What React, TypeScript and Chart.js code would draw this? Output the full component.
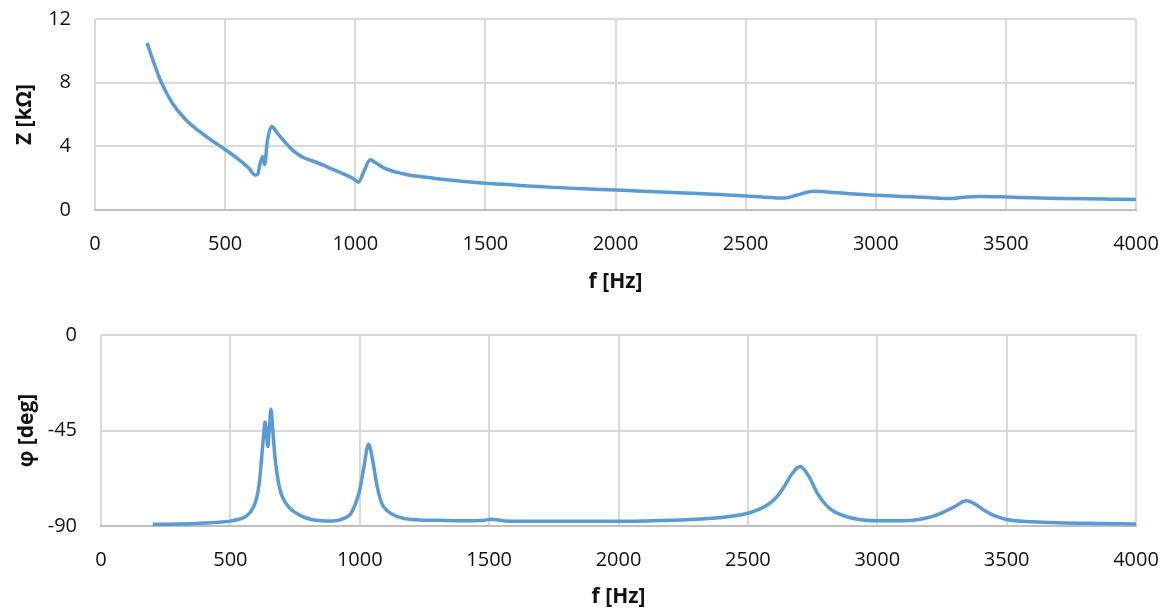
import React, { useEffect, useRef } from "react";
import { Chart, registerables } from "chart.js";

Chart.register(...registerables);

// Impedance magnitude |Z| [kΩ] vs frequency [Hz]
const zFreq = [
  200, 225, 250, 275, 300, 350, 400, 450, 500, 550, 590, 615, 625, 635, 644, 652, 662, 679, 700, 725,
  760, 800, 850, 900, 950, 990, 1013, 1030, 1058, 1080, 1110, 1160, 1200, 1300, 1400, 1500, 1600, 1700,
  1800, 1900, 2000, 2100, 2200, 2300, 2400, 2500, 2600, 2650, 2700, 2760, 2800, 2900, 3000, 3100, 3200,
  3280, 3350, 3400, 3500, 3600, 3700, 3800, 3900, 4000,
];
const zValues = [
  10.5, 9.3, 8.2, 7.35, 6.65, 5.65, 4.95, 4.35, 3.8, 3.2, 2.65, 2.2, 2.25, 2.95, 3.35, 2.85, 4.3, 5.25,
  4.85, 4.35, 3.75, 3.3, 3.0, 2.65, 2.3, 2.0, 1.75, 2.3, 3.15, 2.95, 2.65, 2.36, 2.22, 2.0, 1.82, 1.68,
  1.58, 1.48, 1.39, 1.32, 1.26, 1.18, 1.12, 1.05, 0.98, 0.88, 0.78, 0.75, 0.95, 1.18, 1.15, 1.02, 0.92,
  0.85, 0.78, 0.72, 0.82, 0.85, 0.82, 0.77, 0.73, 0.7, 0.68, 0.66,
];

// Phase φ [deg] vs frequency [Hz]
const phiFreq = [
  200, 300, 400, 500, 520, 560, 590, 605, 615, 620, 628, 634, 640, 645, 650, 657, 664, 672, 680, 690,
  700, 725, 780, 850, 900, 950, 965, 982, 1000, 1015, 1034, 1050, 1065, 1085, 1110, 1140, 1200, 1300,
  1400, 1470, 1510, 1560, 1700, 2000, 2200, 2320, 2420, 2500, 2575, 2610, 2640, 2670, 2702, 2735, 2769,
  2800, 2833, 2900, 3000, 3100, 3160, 3220, 3260, 3300, 3344, 3380, 3416, 3450, 3500, 3600, 3700, 3850,
  4000,
];
const phiValues = [
  -89.2, -89.1, -88.6, -87.7, -87.2, -85.5, -81, -75, -66, -59, -48, -41, -47, -52.5, -45, -35, -45,
  -57, -65, -72, -76, -81, -85.6, -87.5, -87.6, -85.8, -84.2, -80.1, -73, -63, -51.5, -59, -70, -79.3,
  -83.2, -85.3, -86.9, -87.3, -87.5, -87.4, -86.8, -87.6, -87.8, -87.8, -87.3, -86.7, -85.6, -84,
  -80.1, -76.5, -71.5, -65.5, -62, -66.5, -74.6, -79.8, -83.2, -86.2, -87.5, -87.5, -86.9, -85.2,
  -83.2, -80.8, -78.1, -79.8, -82.8, -85, -86.9, -88, -88.5, -88.8, -89,
];

const xMin = 0;
const xMax = 4000;
const xStep = 500;
const zMin = 0;
const zMax = 12;
const zStep = 4;
const phiMin = -90;
const phiMax = 0;
const phiStep = 45;

const xTitle = "f [Hz]";
const zTitle = "Z [kΩ]";
const phiTitle = "φ [deg]";

const LINE = "#5b9bd5";
const GRID = "#d9d9d9";
const AXIS = "#bfbfbf";
const TEXT = "#111111";
const FONT = "'Open Sans', 'DejaVu Sans', sans-serif";
const CLEAR = "rgba(0,0,0,0)";

type PanelCfg = {
  xs: number[];
  ys: number[];
  yMin: number;
  yMax: number;
  yStep: number;
  yTitle: string;
  height: number;
  padTop: number;
  padRight: number;
  yAxisWidth: number;
  yTitlePad: number;
  xAxisHeight: number;
  xTitlePadBottom: number;
};

function Panel(props: PanelCfg) {
  const ref = useRef<HTMLCanvasElement | null>(null);
  useEffect(() => {
    if (!ref.current) return;
    const pts = props.xs.map((x, i) => ({ x, y: props.ys[i] }));
    const chart = new Chart(ref.current, {
      type: "line",
      data: {
        datasets: [
          {
            data: pts,
            borderColor: LINE,
            borderWidth: 3.5,
            pointRadius: 0,
            fill: false,
            cubicInterpolationMode: "monotone",
          },
        ],
      },
      options: {
        responsive: false,
        animation: false,
        maintainAspectRatio: false,
        layout: { padding: { top: props.padTop, right: props.padRight, bottom: 0, left: 0 } },
        plugins: { legend: { display: false }, tooltip: { enabled: false } },
        scales: {
          x: {
            type: "linear",
            min: xMin,
            max: xMax,
            afterFit: (s: any) => {
              s.height = props.xAxisHeight;
            },
            ticks: {
              stepSize: xStep,
              color: TEXT,
              font: { family: FONT, size: 20 },
              padding: 0,
              maxRotation: 0,
              callback: (v: any) => String(v),
            },
            grid: { color: GRID, lineWidth: 2, drawTicks: true, tickLength: 22, tickColor: CLEAR },
            border: { color: AXIS, width: 2 },
            title: {
              display: true,
              text: xTitle,
              color: TEXT,
              font: { family: FONT, size: 21, weight: "bold" },
              padding: { top: 0, bottom: props.xTitlePadBottom },
            },
          },
          y: {
            type: "linear",
            min: props.yMin,
            max: props.yMax,
            afterFit: (s: any) => {
              s.width = props.yAxisWidth;
            },
            ticks: {
              stepSize: props.yStep,
              color: TEXT,
              font: { family: FONT, size: 20 },
              padding: 2,
              callback: (v: any) => String(v),
            },
            grid: { color: GRID, lineWidth: 2, drawTicks: true, tickLength: 22, tickColor: CLEAR },
            border: { display: false },
            title: {
              display: true,
              text: props.yTitle,
              color: TEXT,
              font: { family: FONT, size: 21, weight: "bold" },
              padding: { top: props.yTitlePad, bottom: 0 },
            },
          },
        },
      },
    } as any);
    return () => chart.destroy();
  }, []);
  return (
    <canvas
      ref={ref}
      width={1171}
      height={props.height}
      style={{ display: "block", width: 1171, height: props.height }}
    />
  );
}

export default function App() {
  return (
    <div style={{ position: "absolute", left: 0, top: 0, width: 1171, height: 615, background: "#fff" }}>
      <Panel
        xs={zFreq}
        ys={zValues}
        yMin={zMin}
        yMax={zMax}
        yStep={zStep}
        yTitle={zTitle}
        height={307}
        padTop={19}
        padRight={35}
        yAxisWidth={95}
        yTitlePad={12}
        xAxisHeight={97}
        xTitlePadBottom={12}
      />
      <Panel
        xs={phiFreq}
        ys={phiValues}
        yMin={phiMin}
        yMax={phiMax}
        yStep={phiStep}
        yTitle={phiTitle}
        height={308}
        padTop={28}
        padRight={35}
        yAxisWidth={101}
        yTitlePad={14}
        xAxisHeight={89}
        xTitlePadBottom={5}
      />
    </div>
  );
}
